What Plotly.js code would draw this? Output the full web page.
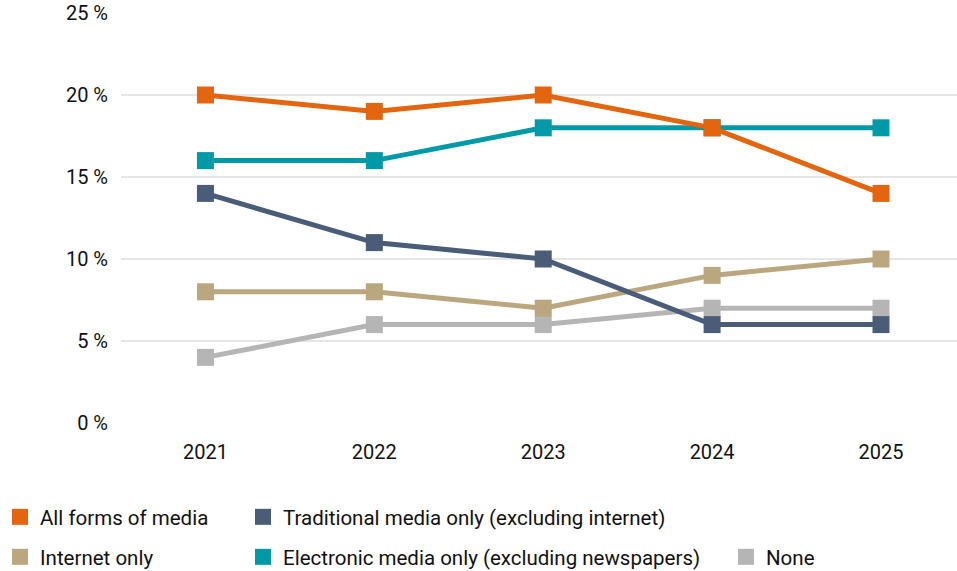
<!DOCTYPE html>
<html>
<head>
<meta charset="utf-8">
<script src="https://cdn.plot.ly/plotly-3.0.1.min.js"></script>
<style>html,body{margin:0;padding:0;background:#fff;}#chart{width:957px;height:571px;}</style>
</head>
<body>
<div id="chart"></div>
<script>
const years = ["2021", "2022", "2023", "2024", "2025"];
const yTicks = [0, 5, 10, 15, 20, 25];
const yTickLabels = ["0 %", "5 %", "10 %", "15 %", "20 %", "25 %"];

const allForms = [20, 19, 20, 18, 14];
const traditionalOnly = [14, 11, 10, 6, 6];
const internetOnly = [8, 8, 7, 9, 10];
const electronicOnly = [16, 16, 18, 18, 18];
const noneMedia = [4, 6, 6, 7, 7];

const names = {
  all: "All forms of media",
  trad: "Traditional media only (excluding internet)",
  net: "Internet only",
  elec: "Electronic media only (excluding newspapers)",
  none: "None"
};
const colors = {
  all: "#E3650F",
  trad: "#4A5C77",
  net: "#BBA77F",
  elec: "#0099A8",
  none: "#B5B5B5"
};

function line(key, vals) {
  return {
    x: years, y: vals, name: names[key], type: "scatter", mode: "lines+markers",
    line: {color: colors[key], width: 5},
    marker: {color: colors[key], size: 17, symbol: "square"},
    showlegend: false, hoverinfo: "x+y+name"
  };
}
function legendItem(key, legend) {
  return {
    x: [null], y: [null], name: names[key], type: "scatter", mode: "markers",
    marker: {color: colors[key], size: 17, symbol: "square"},
    showlegend: true, legend: legend
  };
}

const data = [
  line("none", noneMedia),
  line("net", internetOnly),
  line("trad", traditionalOnly),
  line("elec", electronicOnly),
  line("all", allForms),
  legendItem("all", "legend"),
  legendItem("trad", "legend2"),
  legendItem("net", "legend3"),
  legendItem("elec", "legend4"),
  legendItem("none", "legend5")
];

const font = {family: "Roboto, sans-serif", size: 20, color: "#111111"};
const legBase = {
  orientation: "h", xref: "container", yref: "container", xanchor: "left", yanchor: "middle",
  font: {family: "Roboto, sans-serif", size: 20.5, color: "#111111"},
  bgcolor: "rgba(0,0,0,0)", itemclick: false
};
const row1 = 1 - 517 / 571;
const row2 = 1 - 557 / 571;

const layout = {
  width: 957, height: 571,
  margin: {l: 121, r: 0, t: 13, b: 148},
  paper_bgcolor: "#fff", plot_bgcolor: "#fff",
  font: font,
  showlegend: true,
  xaxis: {
    type: "category", range: [-0.5, 4.45], showgrid: false, zeroline: false, showline: false,
    ticks: "", tickfont: font, ticklabelstandoff: 15, fixedrange: true
  },
  yaxis: {
    range: [0, 25], tickvals: yTicks, ticktext: yTickLabels, showgrid: true,
    gridcolor: "#e6e6e6", gridwidth: 2, zeroline: false, showline: false, ticks: "",
    tickfont: font, ticklabelstandoff: 12, fixedrange: true
  },
  legend: Object.assign({}, legBase, {x: 0, y: row1}),
  legend2: Object.assign({}, legBase, {x: 243 / 957, y: row1}),
  legend3: Object.assign({}, legBase, {x: 0, y: row2}),
  legend4: Object.assign({}, legBase, {x: 243 / 957, y: row2}),
  legend5: Object.assign({}, legBase, {x: 726 / 957, y: row2})
};

Plotly.newPlot("chart", data, layout, {displayModeBar: false, staticPlot: true});
</script>
</body>
</html>
